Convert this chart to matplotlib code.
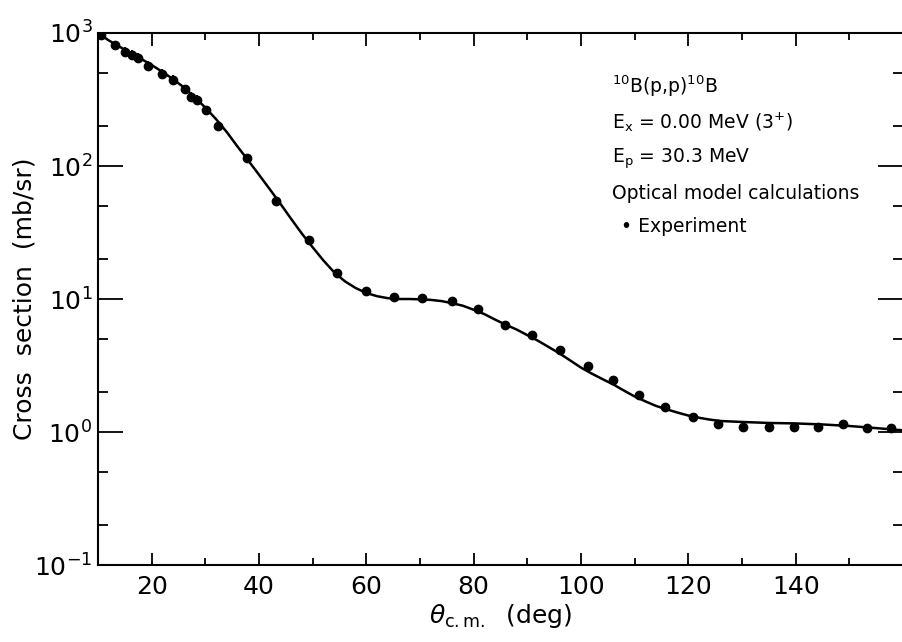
import matplotlib
matplotlib.use("Agg")
import matplotlib.pyplot as plt
from matplotlib.ticker import LogLocator, FixedLocator, NullFormatter

# experiment (theta c.m. in deg, cross section in mb/sr)
exp_theta = [10.5, 13.2, 15.0, 16.3, 17.4, 19.4, 22.0, 23.9, 26.2, 27.4, 28.4,
             30.1, 32.4, 37.8, 43.1, 49.3, 54.5, 59.9, 65.1, 70.4, 75.9, 80.9,
             85.9, 90.9, 96.0, 101.3, 105.9, 110.9, 115.6, 120.8, 125.6, 130.2,
             135.0, 139.6, 144.1, 148.8, 153.3, 157.8]
exp_xs = [960, 812, 721, 684, 654, 566, 493, 445, 379, 333, 315,
          262, 201, 114, 54.4, 27.7, 15.7, 11.5, 10.4, 10.2, 9.66, 8.4,
          6.43, 5.38, 4.17, 3.16, 2.44, 1.89, 1.55, 1.30, 1.14, 1.09,
          1.09, 1.09, 1.09, 1.15, 1.08, 1.08]
# relative error bars, only visible on the forward angles
exp_rel_err = [0.06, 0.08, 0.08, 0.08, 0.08, 0.08, 0.08, 0.08, 0.08, 0.08, 0.08,
               0.08, 0.08, 0.07, 0.0, 0.0, 0.0, 0.0, 0.0, 0.0, 0.0, 0.0,
               0.0, 0.0, 0.0, 0.0, 0.0, 0.0, 0.0, 0.0, 0.0, 0.0,
               0.0, 0.0, 0.0, 0.0, 0.0, 0.0]

# optical model calculation
calc_theta = [10, 12, 14, 16, 18, 20, 22, 24, 26, 28, 30, 32, 34, 36, 38, 40,
              42, 44, 46, 48, 50, 52, 54, 56, 58, 60, 62, 64, 66, 68, 70, 72,
              74, 76, 78, 80, 82, 84, 86, 88, 90, 92, 94, 96, 98, 100, 102,
              104, 106, 108, 110, 112, 114, 116, 118, 120, 122, 124, 126, 130,
              135, 140, 145, 150, 155, 160]
calc_xs = [1000, 880, 790, 710, 640, 575, 510, 450, 390, 330, 275, 225, 180,
           140, 110, 86, 67, 52, 40, 31, 24.5, 19.5, 15.9, 13.6, 12.1, 11.1,
           10.5, 10.15, 10.0, 10.0, 9.95, 9.85, 9.65, 9.3, 8.9, 8.3, 7.7, 7.0,
           6.4, 5.9, 5.35, 4.85, 4.35, 3.9, 3.45, 3.05, 2.75, 2.5, 2.28, 2.05,
           1.85, 1.7, 1.57, 1.48, 1.40, 1.33, 1.28, 1.24, 1.21, 1.19, 1.17,
           1.16, 1.14, 1.11, 1.07, 1.03]

x_ticks = [20, 40, 60, 80, 100, 120, 140]
x_labels = ['20', '40', '60', '80', '100', '120', '140']
y_labels = ['$10^{-1}$', '$10^{0}$', '$10^{1}$', '$10^{2}$', '$10^{3}$']

plt.rcParams['font.family'] = ['DejaVu Sans']
plt.rcParams['mathtext.default'] = 'regular'

fig = plt.figure(figsize=(9.03, 6.42), dpi=100)
ax = fig.add_axes([0.1085, 0.1199, 0.8915, 0.8287])

ax.plot(calc_theta, calc_xs, color='black', lw=1.8, zorder=2)
yerr = [v * e for v, e in zip(exp_xs, exp_rel_err)]
ax.errorbar(exp_theta, exp_xs, yerr=yerr, fmt='o', color='black',
            markersize=6, elinewidth=1.5, capsize=0, zorder=3)

ax.set_yscale('log')
ax.set_xlim(10, 160)
ax.set_ylim(0.1, 1000)

ax.xaxis.set_major_locator(FixedLocator(x_ticks))
ax.set_xticklabels(x_labels)
ax.xaxis.set_minor_locator(FixedLocator([30, 50, 70, 90, 110, 130, 150]))
ax.yaxis.set_major_locator(FixedLocator([0.1, 1, 10, 100, 1000]))
ax.set_yticklabels(y_labels)
ax.yaxis.set_minor_locator(LogLocator(base=10, subs=(2.0, 5.0)))
ax.yaxis.set_minor_formatter(NullFormatter())

ax.tick_params(axis='x', which='major', direction='in', length=9, width=1.3,
               top=True, labelsize=18, pad=7)
ax.tick_params(axis='x', which='minor', direction='in', length=5, width=1.3,
               top=True)
ax.tick_params(axis='y', which='major', direction='in', length=18, width=1.3,
               right=True, labelsize=18, pad=4)
ax.tick_params(axis='y', which='minor', direction='in', length=7, width=1.3,
               right=True)
for s in ax.spines.values():
    s.set_linewidth(1.5)
ax.spines['right'].set_visible(False)

ax.set_xlabel(r'$\mathit{\theta}_{c.m.}$  (deg)', fontsize=18, labelpad=2)
ax.set_ylabel('Cross  section  (mb/sr)', fontsize=18)
ax.yaxis.set_label_coords(-0.076, 0.5)

tx = 0.638
fs = 13.5
ax.text(tx, 0.887, '$^{10}$B(p,p)$^{10}$B', transform=ax.transAxes, fontsize=fs)
ax.text(tx, 0.821, '$E_x$ = 0.00 MeV (3$^{+}$)', transform=ax.transAxes, fontsize=fs)
ax.text(tx, 0.756, '$E_p$ = 30.3 MeV', transform=ax.transAxes, fontsize=fs)
ax.text(tx, 0.688, 'Optical model calculations', transform=ax.transAxes, fontsize=fs)
ax.text(tx + 0.012, 0.626, '\u2022 Experiment', transform=ax.transAxes, fontsize=fs)

fig.savefig('out.png', dpi=100)
